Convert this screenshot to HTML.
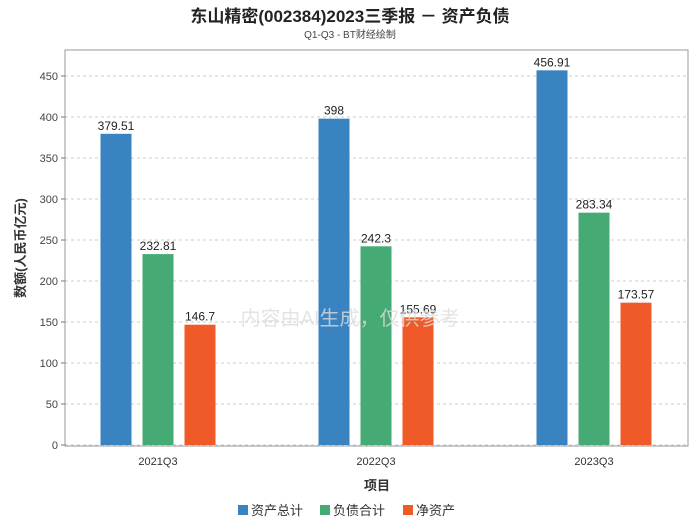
<!DOCTYPE html>
<html><head><meta charset="utf-8">
<style>
body{margin:0;background:#fff;font-family:"Liberation Sans","Noto Sans CJK SC",sans-serif;}
</style></head>
<body>
<svg id="chart" width="700" height="524" xmlns="http://www.w3.org/2000/svg" font-family="Liberation Sans, Noto Sans CJK SC, sans-serif">
<rect width="700" height="524" fill="#fff"/>
<text x="350" y="22" text-anchor="middle" font-size="17" font-weight="bold" fill="#222">东山精密(002384)2023三季报 － 资产负债</text>
<text x="350" y="38" text-anchor="middle" font-size="10" fill="#444">Q1-Q3 - BT财经绘制</text>
<g id="grid"></g>
<rect x="65" y="50" width="623" height="396" fill="none" stroke="#999"/>
<g id="bars"></g>
<g id="axes"></g>
<text x="350" y="325" text-anchor="middle" font-size="20" fill="#ddd" opacity="0.8">内容由AI生成，仅供参考</text>
<text x="377" y="490" text-anchor="middle" font-size="13" font-weight="bold" fill="#333">项目</text>
<text transform="translate(25,248) rotate(-90)" text-anchor="middle" font-size="13" font-weight="bold" fill="#333">数额(人民币亿元)</text>
<g id="legend"></g>
</svg>
<script>
const categories=["2021Q3","2022Q3","2023Q3"];
const seriesNames=["资产总计","负债合计","净资产"];
const totalAssets=[379.51,398,456.91];
const totalLiabilities=[232.81,242.3,283.34];
const netAssets=[146.7,155.69,173.57];
const yTicks=[0,50,100,150,200,250,300,350,400,450];
const colors=["#3a83c1","#45aa74","#f05a28"];
const NS="http://www.w3.org/2000/svg";
const y=v=>445-v*(369/450);
const xc=i=>158+218*i;
function mk(tag,attrs,parent){const e=document.createElementNS(NS,tag);for(const k in attrs)e.setAttribute(k,attrs[k]);parent.appendChild(e);return e;}
const grid=document.getElementById('grid'),axes=document.getElementById('axes'),bars=document.getElementById('bars'),legend=document.getElementById('legend');
yTicks.forEach(t=>{
 const l=mk('line',{x1:65,x2:688,y1:y(t),y2:y(t),stroke:'#ccc','stroke-dasharray':'3,3'},grid);
 
 
 const tk=mk('line',{x1:61,x2:65,y1:y(t),y2:y(t),stroke:'#777'},axes);
 
 
 const tx=mk('text',{x:58,y:y(t)+4,'text-anchor':'end','font-size':11,fill:'#444'},axes);
 tx.textContent=t;
 
 
});
const series=[totalAssets,totalLiabilities,netAssets];
categories.forEach((c,i)=>{
 const tx=mk('text',{x:xc(i),y:465,'text-anchor':'middle','font-size':11,fill:'#333'},axes);
 tx.textContent=c;
 
 
 series.forEach((s,j)=>{
  const x=xc(i)+(j-1)*42-15.5;
  const r=mk('rect',{x:x,y:y(s[i]),width:31,height:445-y(s[i]),fill:colors[j]},bars);
  
  
  const lb=mk('text',{x:x+15.5,y:y(s[i])-4,'text-anchor':'middle','font-size':12,fill:'#222'},bars);
  lb.textContent=s[i];
  
  
 });
});
const lx=[238,320,403];
seriesNames.forEach((n,j)=>{
 const r=mk('rect',{x:lx[j],y:505,width:10,height:10,fill:colors[j]},legend);
 
 
 const t=mk('text',{x:lx[j]+13,y:515,'font-size':13,fill:'#333'},legend);
 t.textContent=n;
 
 
});
</script>
</body></html>
